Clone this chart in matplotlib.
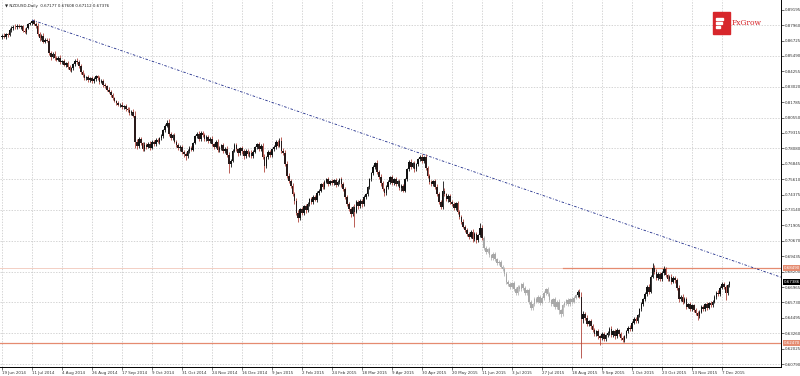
import numpy as np
import matplotlib
matplotlib.use("Agg")
from matplotlib import pyplot as plt
from matplotlib.patches import Rectangle

# NZDUSD daily, closes in pips (x 1e-4)
closes = [
    8712, 8705, 8722, 8716, 8760, 8772, 8785, 8778, 8790, 8782,
    8786, 8752, 8740, 8775, 8805, 8812, 8830, 8808, 8790, 8725,
    8690, 8712, 8665, 8680, 8670, 8570, 8540, 8568, 8530, 8520,
    8535, 8498, 8505, 8478, 8490, 8460, 8438, 8450, 8482, 8512,
    8500, 8470, 8420, 8395, 8372, 8380, 8355, 8372, 8348, 8368,
    8385, 8370, 8340, 8352, 8318, 8305, 8280, 8262, 8235, 8210,
    8190, 8172, 8155, 8160, 8138, 8148, 8125, 8118, 8090, 8102,
    8070, 7860, 7830, 7882, 7850, 7805, 7838, 7820, 7845, 7815,
    7860, 7842, 7875, 7858, 7890, 7905, 7955, 7990, 8010, 7925,
    7890, 7915, 7860, 7835, 7808, 7822, 7780, 7760, 7745, 7790,
    7812, 7798, 7850, 7905, 7925, 7880, 7935, 7915, 7880, 7900,
    7865, 7885, 7840, 7820, 7860, 7795, 7810, 7835, 7790, 7805,
    7755, 7680, 7710, 7790, 7835, 7800, 7770, 7810, 7785, 7745,
    7790, 7760, 7775, 7745, 7780, 7820, 7840, 7805, 7830, 7740,
    7670, 7735, 7780, 7755, 7800, 7820, 7860, 7830, 7870, 7790,
    7770, 7680, 7590, 7545, 7510, 7440, 7385, 7290, 7250, 7320,
    7290, 7345, 7310, 7365, 7400, 7380, 7420, 7395, 7450, 7470,
    7520, 7500, 7540, 7560, 7525, 7545, 7530, 7555, 7515, 7540,
    7560, 7520, 7480, 7420, 7360, 7320, 7280, 7335, 7300, 7380,
    7345, 7390, 7360, 7420, 7440, 7500, 7560, 7610, 7660, 7690,
    7620, 7580, 7530, 7480, 7450, 7500, 7540, 7580, 7530, 7560,
    7520, 7545, 7490, 7510, 7470, 7560, 7640, 7700, 7660, 7690,
    7640, 7680, 7720, 7740, 7705, 7735, 7650, 7590, 7540, 7520,
    7545, 7500, 7440, 7380, 7340, 7470, 7440, 7400, 7430, 7380,
    7360, 7330, 7370, 7300, 7260, 7220, 7180, 7150, 7120, 7100,
    7140, 7080, 7120, 7070, 7110, 7170, 7090, 7010, 6980, 7000,
    6950, 6930, 6960, 6920, 6890, 6900, 6860, 6840, 6800, 6740,
    6720, 6700, 6730, 6680, 6650, 6700, 6680, 6720, 6690, 6650,
    6670, 6580, 6530, 6560, 6600, 6580, 6620, 6570, 6610, 6650,
    6680, 6640, 6590, 6560, 6600, 6540, 6580, 6510, 6480, 6550,
    6570, 6590, 6560, 6600, 6580, 6610, 6630, 6660, 6620, 6440,
    6480, 6450, 6400, 6420, 6380, 6350, 6320, 6340, 6300, 6290,
    6320, 6280, 6310, 6330, 6360, 6310, 6340, 6300, 6350, 6320,
    6290, 6270, 6300, 6340, 6370, 6360, 6410, 6440, 6420, 6470,
    6520, 6560, 6600, 6640, 6700, 6660, 6780, 6850, 6820, 6770,
    6800, 6760, 6810, 6840, 6790, 6760, 6780, 6740, 6770, 6750,
    6690, 6600, 6620, 6580, 6600, 6540, 6560, 6520, 6550, 6510,
    6490, 6460, 6500, 6540, 6520, 6560, 6530, 6570, 6550, 6580,
    6620, 6650, 6640, 6690, 6720, 6700, 6650, 6710, 6738,
]
first_open = 8700

# wick lengths in pips above / below the body
wick_up = [
    12, 18, 8, 15, 10, 14, 9, 20, 12, 16, 8, 14, 22, 10, 6, 12, 8, 18, 15, 20,
    14, 10, 22, 12, 16, 25, 18, 12, 20, 15, 10, 18, 14, 20, 12, 15, 18, 10, 14, 12,
    20, 15, 12, 18, 14, 10, 16, 12, 18, 14, 10, 15, 20, 12, 16, 14, 10, 18, 12, 15,
    14, 10, 16, 12, 18, 10, 15, 12, 20, 14, 18, 40, 22, 15, 20, 12, 18, 14, 16, 20,
    12, 18, 14, 16, 10, 15, 12, 14, 26, 30, 16, 12, 20, 14, 18, 12, 16, 14, 20, 15,
    12, 18, 10, 14, 12, 20, 10, 16, 14, 12, 18, 14, 20, 12, 16, 22, 14, 12, 18, 15,
    20, 25, 14, 12, 16, 20, 14, 12, 18, 15, 12, 16, 14, 20, 12, 10, 14, 18, 12, 25,
    20, 14, 12, 16, 10, 14, 12, 18, 20, 30, 18, 22, 25, 18, 20, 22, 18, 25, 20, 14,
    18, 12, 20, 14, 12, 16, 12, 18, 14, 12, 10, 16, 12, 14, 18, 12, 16, 10, 18, 14,
    12, 20, 18, 22, 16, 20, 18, 14, 25, 12, 18, 12, 16, 14, 12, 10, 14, 12, 16, 10,
    25, 18, 20, 16, 14, 12, 14, 10, 18, 12, 16, 12, 18, 14, 16, 10, 12, 14, 20, 12,
    18, 12, 10, 15, 20, 12, 25, 18, 14, 12, 10, 16, 20, 18, 16, 80, 18, 14, 12, 16,
    14, 18, 12, 20, 16, 14, 18, 12, 16, 14, 12, 20, 14, 18, 12, 40, 20, 18, 14, 12,
    16, 12, 14, 18, 12, 14, 16, 12, 18, 14, 12, 16, 10, 18, 14, 10, 16, 12, 18, 14,
    12, 20, 16, 12, 14, 18, 10, 16, 12, 14, 12, 18, 16, 14, 12, 18, 14, 20, 12, 10,
    14, 12, 16, 10, 14, 12, 10, 12, 18, 40, 25, 20, 18, 14, 16, 18, 14, 12, 16, 12,
    14, 18, 12, 16, 14, 20, 12, 16, 14, 12, 16, 14, 12, 10, 14, 18, 12, 14, 18, 12,
    10, 14, 12, 16, 14, 18, 12, 40, 25, 20, 16, 20, 14, 25, 18, 14, 16, 20, 12, 14,
    18, 25, 16, 20, 14, 18, 12, 16, 14, 12, 16, 12, 14, 10, 16, 12, 14, 10, 16, 12,
    14, 16, 20, 12, 14, 18, 14, 12, 10,
]
wick_dn = [
    14, 10, 16, 12, 8, 15, 12, 10, 14, 12, 16, 12, 10, 14, 12, 8, 12, 10, 14, 12,
    18, 12, 10, 14, 12, 16, 20, 10, 14, 12, 14, 12, 16, 10, 14, 12, 10, 14, 12, 16,
    12, 14, 16, 12, 18, 14, 12, 16, 14, 12, 16, 12, 14, 10, 16, 12, 14, 10, 12, 14,
    12, 16, 10, 14, 12, 18, 14, 16, 12, 18, 14, 50, 25, 18, 16, 20, 14, 18, 12, 16,
    14, 12, 18, 10, 14, 12, 10, 12, 14, 16, 18, 14, 12, 16, 14, 18, 20, 25, 30, 14,
    16, 12, 14, 10, 12, 16, 14, 12, 16, 14, 12, 16, 14, 18, 12, 16, 14, 12, 16, 18,
    20, 70, 18, 14, 12, 16, 20, 14, 18, 20, 14, 16, 18, 12, 14, 12, 16, 14, 18, 20,
    50, 16, 12, 18, 14, 12, 16, 14, 12, 16, 18, 16, 20, 14, 18, 16, 20, 14, 30, 16,
    18, 14, 20, 12, 16, 14, 18, 12, 14, 16, 12, 16, 14, 12, 18, 14, 12, 16, 14, 12,
    14, 18, 16, 20, 14, 18, 20, 16, 120, 14, 20, 14, 18, 12, 16, 14, 18, 12, 14, 16,
    14, 18, 20, 16, 25, 12, 14, 16, 18, 14, 16, 12, 18, 20, 14, 12, 10, 16, 14, 12,
    18, 14, 12, 14, 16, 12, 18, 20, 14, 16, 12, 18, 16, 20, 18, 14, 16, 12, 18, 14,
    16, 18, 14, 20, 16, 18, 14, 16, 12, 18, 14, 20, 16, 18, 14, 12, 16, 14, 18, 12,
    16, 14, 18, 12, 16, 14, 12, 16, 18, 20, 14, 18, 12, 16, 20, 14, 12, 16, 14, 18,
    14, 20, 20, 14, 16, 12, 14, 18, 12, 16, 14, 12, 16, 18, 14, 20, 16, 30, 25, 14,
    12, 16, 14, 12, 16, 14, 12, 16, 14, 313, 30, 20, 16, 18, 20, 16, 18, 14, 20, 60,
    16, 18, 14, 16, 18, 14, 16, 20, 14, 18, 20, 12, 16, 14, 12, 16, 14, 12, 16, 14,
    16, 14, 12, 18, 14, 16, 12, 14, 16, 18, 14, 18, 12, 16, 14, 18, 12, 16, 14, 18,
    14, 20, 16, 18, 14, 16, 12, 18, 14, 16, 18, 28, 14, 12, 16, 14, 18, 12, 16, 14,
    12, 16, 14, 18, 12, 16, 58, 14, 12,
]

date_labels = [
    "19 Jun 2014", "11 Jul 2014", "4 Aug 2014", "26 Aug 2014", "17 Sep 2014",
    "9 Oct 2014", "31 Oct 2014", "24 Nov 2014", "16 Dec 2014", "9 Jan 2015",
    "2 Feb 2015", "24 Feb 2015", "18 Mar 2015", "9 Apr 2015", "30 Apr 2015",
    "20 May 2015", "11 Jun 2015", "3 Jul 2015", "27 Jul 2015", "18 Aug 2015",
    "9 Sep 2015", "1 Oct 2015", "23 Oct 2015", "13 Nov 2015", "7 Dec 2015",
]
bars_per_label = 16

price_labels = [
    0.89195, 0.87960, 0.86725, 0.85490, 0.84255, 0.83020, 0.81785, 0.80550,
    0.79315, 0.78080, 0.76845, 0.75610, 0.74375, 0.73140, 0.71905, 0.70670,
    0.69435, 0.68200, 0.66965, 0.65730, 0.64495, 0.63260, 0.62025, 0.60790,
]

# drawn objects
trend_x = [16, 412]
trend_y = [0.8838, 0.6793]
resist_level = 0.6849
resist_start = 299
support_level = 0.6247
faded_bars = (257, 306)

header = "\u25bc NZDUSD,Daily  0.67177 0.67608 0.67112 0.67376"

c = np.array(closes) / 10000
o = np.concatenate([[first_open / 10000], c[:-1]])
hi = np.maximum(o, c) + np.array(wick_up) / 10000
lo = np.minimum(o, c) - np.array(wick_dn) / 10000
idx = np.arange(len(c))

body_col = np.where(c >= o, "#111111", "#2a1a1a")
wick_col = np.where(c >= o, "#111111", "#b0443a")
fade = (idx >= faded_bars[0]) & (idx <= faded_bars[1])
body_col[fade] = "#a8a8a8"
wick_col[fade] = "#b4b4b4"

FS = 2.9

fig = plt.figure(figsize=(8, 3.76), dpi=100)
ax = fig.add_axes([0, 9 / 376, 781 / 800, 367 / 376])
ax.set_xlim(-1.07, 415.5)
ax.set_ylim(0.6055, 0.8998)

# grid (dotted)
xt = idx[::bars_per_label][:len(date_labels)]
for x in xt:
    ax.axvline(x, color="#c4c4c4", lw=0.5, ls=(0, (2, 2)), zorder=0)
for p in price_labels[1::2]:
    ax.axhline(p, color="#c4c4c4", lw=0.5, ls=(0, (2, 2)), zorder=0)

# levels
ax.axhline(resist_level, color="#f3cfc4", lw=0.7, zorder=1)
ax.plot([resist_start, 416], [resist_level, resist_level], color="#e58b70", lw=0.9, zorder=1)
ax.axhline(support_level, color="#e58b70", lw=0.9, zorder=1)

# candles
ax.vlines(idx, lo, hi, colors=wick_col, lw=0.6, zorder=2)
body = np.maximum(np.abs(c - o), 0.0002)
ax.bar(idx, body, bottom=np.minimum(o, c), width=0.85, color=body_col, lw=0, zorder=3)

# trend line
slope = (trend_y[1] - trend_y[0]) / (trend_x[1] - trend_x[0])
tx = np.array([trend_x[0], 416])
ax.plot(tx, trend_y[0] + slope * (tx - trend_x[0]), color="#1c2a8a", lw=0.6,
        ls=(0, (3, 2, 1, 2)), zorder=4)

# axes
for s in ["top", "left"]:
    ax.spines[s].set_visible(False)
for s in ["right", "bottom"]:
    ax.spines[s].set_linewidth(0.7)
ax.yaxis.tick_right()
ax.set_yticks(price_labels)
ax.set_yticklabels(["%.5f" % p for p in price_labels])
ax.set_xticks(xt)
ax.set_xticklabels(date_labels, ha="left")
ax.tick_params(axis="both", labelsize=FS, length=2, width=0.5, pad=1, colors="#333333")

tr = ax.get_yaxis_transform()
box = dict(boxstyle="square,pad=0.3", edgecolor="none")
ax.text(1.004, resist_level, "0.68490", transform=tr, fontsize=FS, color="white",
        va="center", ha="left", bbox=dict(box, facecolor="#e58b70"), zorder=6)
ax.text(1.004, support_level, "0.62470", transform=tr, fontsize=FS, color="white",
        va="center", ha="left", bbox=dict(box, facecolor="#e58b70"), zorder=6)
ax.text(1.004, c[-1], "%.5f" % (closes[-1] / 10000 + 0.00006), transform=tr, fontsize=FS,
        color="white", va="center", ha="left", bbox=dict(box, facecolor="black"), zorder=6)

fig.text(0.006, 0.99, header, fontsize=FS, va="top", ha="left", color="#222222")

# logo
fig.patches.append(Rectangle((713 / 800, 1 - 34 / 376), 17 / 800, 22 / 376,
                             transform=fig.transFigure, color="#d7262b", zorder=5))
for k, w in enumerate([7, 6, 4]):
    fig.patches.append(Rectangle((716 / 800, 1 - (20 + 4 * k) / 376), w / 800, 1.6 / 376,
                                 transform=fig.transFigure, color="white", zorder=6))
fig.text(732 / 800, 1 - 23 / 376, "FxGrow", fontsize=5.5, color="#d7262b",
         family="DejaVu Serif", va="center", ha="left")

fig.savefig("out.png", dpi=100)
